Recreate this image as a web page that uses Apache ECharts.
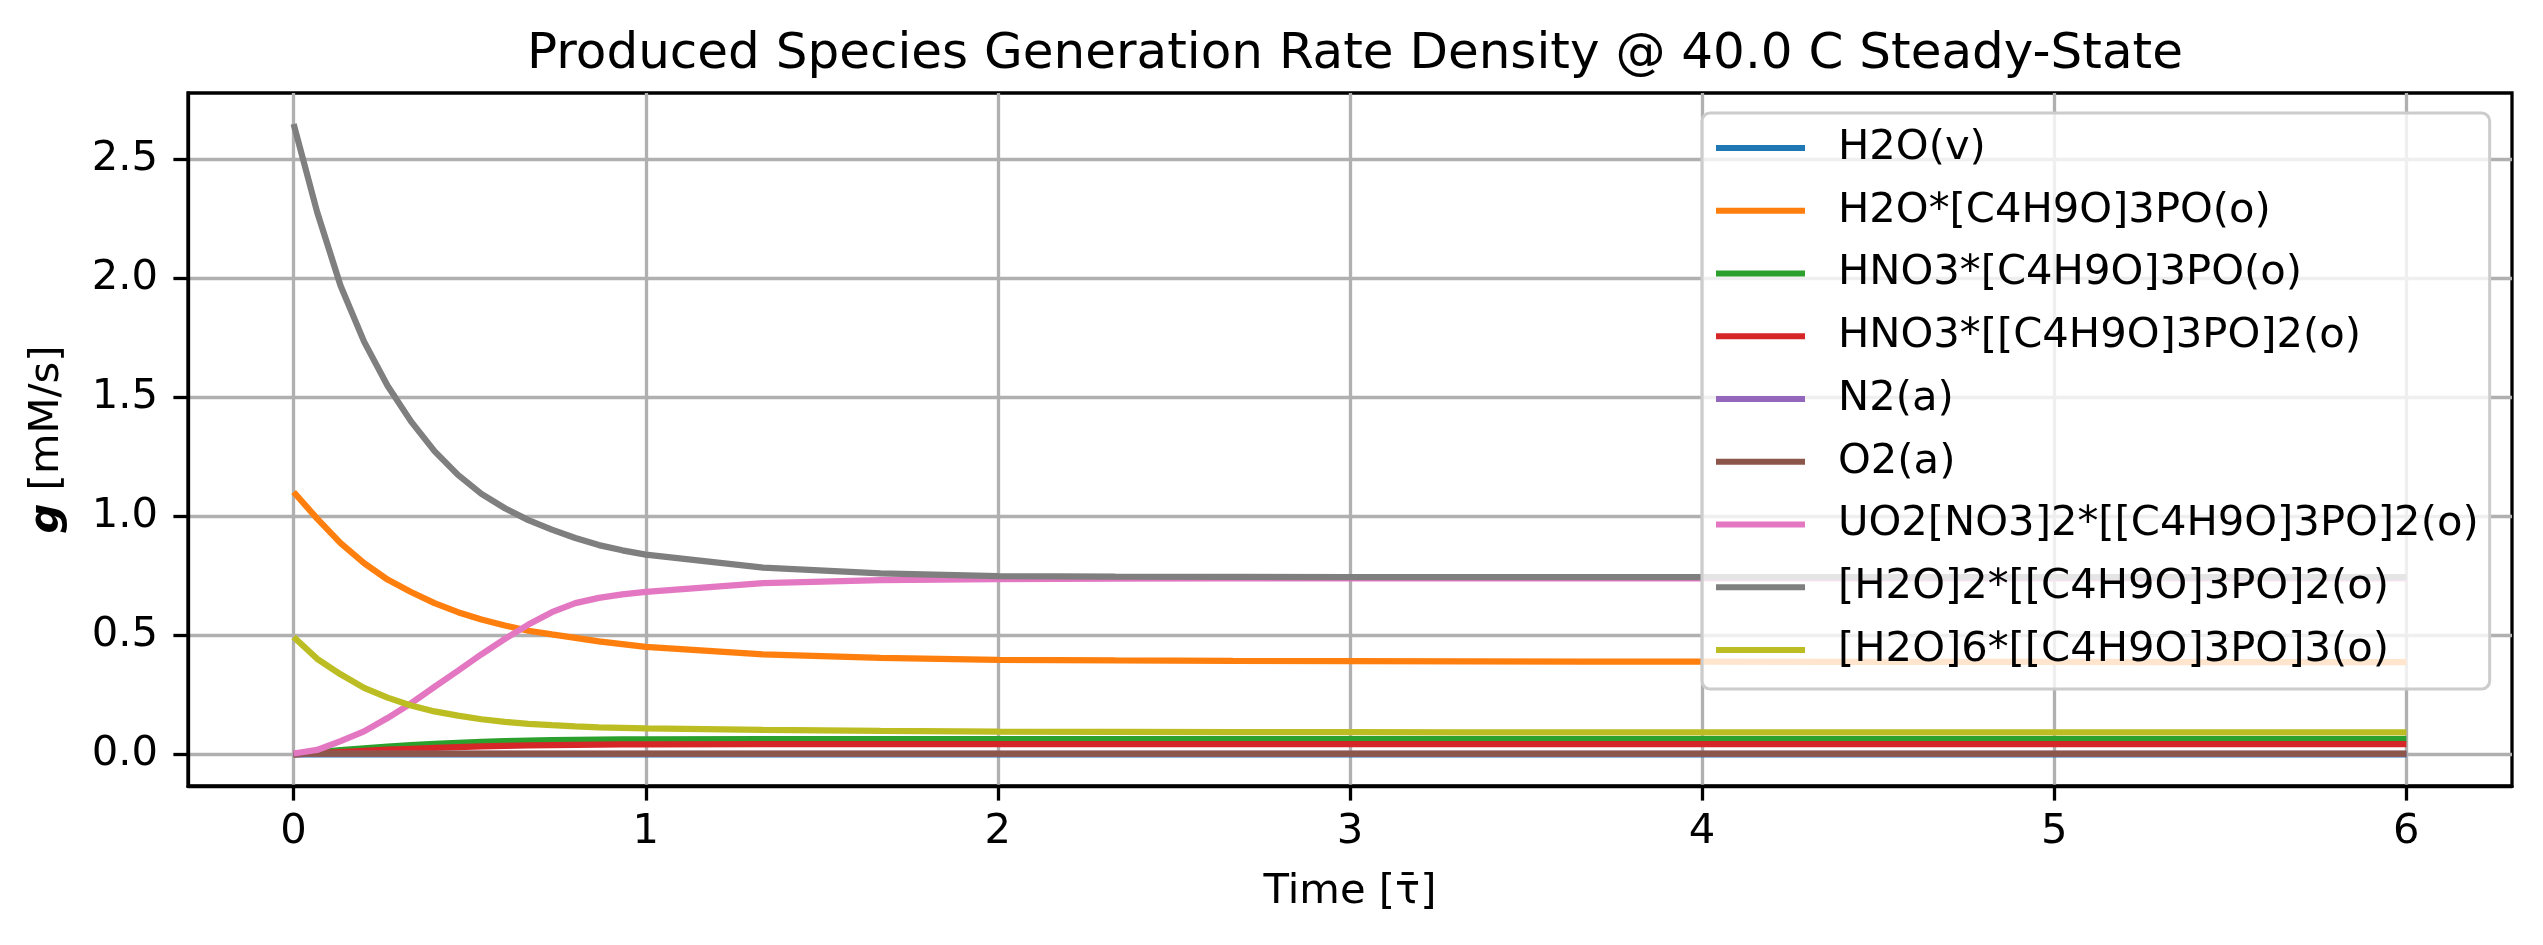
<!DOCTYPE html>
<html>
<head>
<meta charset="utf-8">
<script src="https://cdn.jsdelivr.net/npm/echarts@6/dist/echarts.min.js"></script>
<style>
html,body{margin:0;padding:0;background:#fff;}
#chart{width:2543px;height:945px;}
</style>
</head>
<body>
<div id="chart"></div>
<script>
// ---- data ----
const timeValues = [0, 0.0667, 0.1333, 0.2, 0.2667, 0.3333, 0.4, 0.4667, 0.5333, 0.6, 0.6667, 0.7333, 0.8, 0.8667, 0.9333, 1.0,
  1.3333, 1.6667, 2.0, 2.3333, 2.6667, 3.0, 3.3333, 3.6667, 4.0, 4.3333, 4.6667, 5.0, 5.3333, 5.6667, 6.0];

const seriesNames = ["H2O(v)", "H2O*[C4H9O]3PO(o)", "HNO3*[C4H9O]3PO(o)", "HNO3*[[C4H9O]3PO]2(o)",
  "N2(a)", "O2(a)", "UO2[NO3]2*[[C4H9O]3PO]2(o)", "[H2O]2*[[C4H9O]3PO]2(o)", "[H2O]6*[[C4H9O]3PO]3(o)"];

const h2oV = [0,0,0,0,0,0,0,0,0,0,0,0,0,0,0,0, 0,0,0,0,0,0,0,0,0,0,0,0,0,0,0];
const h2oTbp = [1.103, 0.991, 0.888, 0.804, 0.735, 0.683, 0.636, 0.598, 0.567, 0.542, 0.520, 0.505, 0.490, 0.475, 0.464, 0.452,
  0.421, 0.406, 0.398, 0.395, 0.393, 0.392, 0.391, 0.390, 0.390, 0.389, 0.389, 0.389, 0.388, 0.388, 0.388];
const hno3Tbp = [0, 0.009, 0.018, 0.026, 0.033, 0.039, 0.045, 0.049, 0.053, 0.056, 0.058, 0.060, 0.061, 0.062, 0.063, 0.063,
  0.064, 0.065, 0.065, 0.065, 0.065, 0.065, 0.065, 0.065, 0.065, 0.065, 0.065, 0.065, 0.065, 0.065, 0.065];
const hno3Tbp2 = [0, 0.005, 0.010, 0.015, 0.020, 0.024, 0.028, 0.031, 0.034, 0.036, 0.038, 0.039, 0.040, 0.041, 0.042, 0.042,
  0.043, 0.044, 0.044, 0.044, 0.044, 0.044, 0.044, 0.044, 0.044, 0.044, 0.044, 0.044, 0.044, 0.044, 0.044];
const n2A = [0.002,0.002,0.002,0.002,0.002,0.002,0.002,0.002,0.002,0.002,0.002,0.002,0.002,0.002,0.002,0.002,
  0.002,0.002,0.002,0.002,0.002,0.002,0.002,0.002,0.002,0.002,0.002,0.002,0.002,0.002,0.002];
const o2A = [0.004,0.004,0.004,0.004,0.004,0.004,0.004,0.004,0.004,0.004,0.004,0.004,0.004,0.004,0.004,0.004,
  0.004,0.004,0.004,0.004,0.004,0.004,0.004,0.004,0.004,0.004,0.004,0.004,0.004,0.004,0.004];
const uo2Tbp2 = [0.004, 0.019, 0.056, 0.097, 0.153, 0.215, 0.284, 0.352, 0.421, 0.486, 0.546, 0.598, 0.636, 0.658, 0.673, 0.683,
  0.720, 0.733, 0.737, 0.739, 0.740, 0.740, 0.740, 0.740, 0.740, 0.740, 0.740, 0.740, 0.740, 0.740, 0.740];
const h2o2Tbp2 = [2.650, 2.280, 1.970, 1.735, 1.550, 1.400, 1.275, 1.175, 1.095, 1.035, 0.985, 0.945, 0.910, 0.880, 0.858, 0.840,
  0.785, 0.761, 0.750, 0.747, 0.746, 0.745, 0.745, 0.745, 0.745, 0.745, 0.745, 0.745, 0.745, 0.745, 0.745];
const h2o6Tbp3 = [0.494, 0.402, 0.337, 0.280, 0.239, 0.206, 0.181, 0.163, 0.148, 0.137, 0.129, 0.123, 0.118, 0.114, 0.112, 0.110,
  0.103, 0.099, 0.096, 0.095, 0.094, 0.094, 0.093, 0.093, 0.093, 0.093, 0.093, 0.093, 0.093, 0.093, 0.093];

const seriesValues = [h2oV, h2oTbp, hno3Tbp, hno3Tbp2, n2A, o2A, uo2Tbp2, h2o2Tbp2, h2o6Tbp3];
const seriesColors = ["#1f77b4", "#ff7f0e", "#2ca02c", "#d62728", "#9467bd", "#8c564b", "#e377c2", "#7f7f7f", "#bcbd22"];

const xTicks = [0, 1, 2, 3, 4, 5, 6];
const yTicks = [0.0, 0.5, 1.0, 1.5, 2.0, 2.5];

const titleText = "Produced Species Generation Rate Density @ 40.0 C Steady-State";
const xName = "Time [\u03C4\u0304]";
const yName = "{b|g} [mM/s]";

// ---- chart ----
const FONT = "DejaVu Sans";
const FS = 41.7;
const chart = echarts.init(document.getElementById('chart'), null, {renderer: 'canvas'});

const series = seriesNames.map((name, k) => ({
  name: name,
  type: 'line',
  symbol: 'none',
  showSymbol: false,
  smooth: false,
  color: seriesColors[k],
  lineStyle: {width: 6.25, color: seriesColors[k]},
  emphasis: {disabled: true},
  data: timeValues.map((t, i) => [t, seriesValues[k][i]])
}));

chart.setOption({
  animation: false,
  backgroundColor: '#fff',
  title: {
    text: titleText,
    left: 1350,
    textAlign: 'center',
    top: 25,
    textStyle: {fontFamily: FONT, fontSize: 50, fontWeight: 'normal', color: '#000'}
  },
  grid: {
    left: 188, right: 31, top: 93, bottom: 159,
    show: true, borderColor: '#000', borderWidth: 3.3, backgroundColor: 'transparent'
  },
  legend: {
    data: seriesNames,
    orient: 'vertical',
    left: 1702,
    top: 113,
    icon: 'rect',
    itemWidth: 89,
    itemHeight: 6,
    itemGap: 12.75,
    padding: [10, 11, 14, 14],
    backgroundColor: 'rgba(255,255,255,0.8)',
    borderColor: '#cccccc',
    borderWidth: 3,
    borderRadius: 8,
    textStyle: {fontFamily: FONT, fontSize: FS, color: '#000', lineHeight: 50, padding: [0, 0, 0, 28]}
  },
  xAxis: {
    type: 'value',
    min: -0.3, max: 6.3,
    name: xName,
    nameLocation: 'middle',
    nameGap: 85,
    nameTextStyle: {fontFamily: FONT, fontSize: FS, color: '#000'},
    axisLine: {show: true, onZero: false, lineStyle: {color: '#000', width: 3.3}},
    axisTick: {show: true, inside: false, length: 14.6, customValues: xTicks, lineStyle: {color: '#000', width: 3.3}},
    axisLabel: {show: true, margin: 25, customValues: xTicks, fontFamily: FONT, fontSize: FS, color: '#000',
      formatter: v => String(v)},
    splitLine: {show: true, lineStyle: {color: '#b0b0b0', width: 3.3}}
  },
  yAxis: {
    type: 'value',
    min: -0.1325, max: 2.78,
    name: yName,
    nameLocation: 'middle',
    nameGap: 120,
    nameRotate: 90,
    nameTextStyle: {fontFamily: FONT, fontSize: FS, color: '#000',
      rich: {b: {fontFamily: FONT, fontSize: FS, fontWeight: 'bold', fontStyle: 'italic', color: '#000'}}},
    axisLine: {show: true, onZero: false, lineStyle: {color: '#000', width: 3.3}},
    axisTick: {show: true, inside: false, length: 14.6, customValues: yTicks, lineStyle: {color: '#000', width: 3.3}},
    axisLabel: {show: true, margin: 30, customValues: yTicks, fontFamily: FONT, fontSize: FS, color: '#000',
      formatter: v => v.toFixed(1)},
    splitLine: {show: true, lineStyle: {color: '#b0b0b0', width: 3.3}}
  },
  series: series
});
</script>
</body>
</html>
